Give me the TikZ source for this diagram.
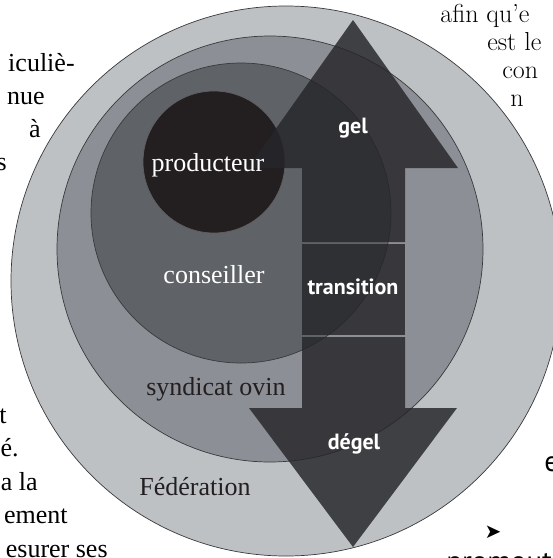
\documentclass[tikz,border=0pt]{standalone}
\usepackage{fontspec}
\usepackage{tikz}

\newfontfamily\serifface{Liberation Serif}
\newfontfamily\sansface{PT Sans}
\newfontfamily\symbface{DejaVu Sans}

\definecolor{fedgrey}{RGB}{189,193,196}
\definecolor{syngrey}{RGB}{140,143,149}
\definecolor{congrey}{RGB}{95,98,103}
\definecolor{prodblack}{RGB}{35,31,32}
\definecolor{arrowgrey}{RGB}{38,38,42}
\definecolor{rimgrey}{RGB}{58,58,60}

\begin{document}
\begin{tikzpicture}[x=1pt,y=-1pt,line width=0.7pt,
		circlelabel/.style={font=\serifface\fontsize{26}{26}\selectfont,anchor=base},
		arrowlabel/.style={font=\sansface\bfseries\fontsize{22}{22}\selectfont,text=white,anchor=base},
		lefttext/.style={font=\serifface\fontsize{26}{26}\selectfont,anchor=base east,inner sep=0pt},
		righttext/.style={font=\fontsize{26}{26}\selectfont,anchor=base west,inner sep=0pt},
		stage/.style={fill=arrowgrey,fill opacity=0.83}]
		\useasboundingbox (0,0) rectangle (553,558);
		\fill[white] (0,0) rectangle (553,558);

		% page text around the figure
		\foreach \y/\x/\word in {71/75/iculiè-, 104/45/nue, 137/41/à, 170/7/s,
			423/7/t, 456/19/é., 490/38/a la, 523/68/ement, 557/108/esurer ses}
			\node[lefttext] (l\y) at (\x,\y) {\word};
		\foreach \y/\x/\word in {22/440/afin qu’e, 50/487/est le, 78/502/con, 106/510/n}
			\node[righttext] (r\y) at (\x,\y) {\word};
		\node[font=\sansface\fontsize{29}{29}\selectfont,anchor=base west,inner sep=0pt] (e) at (544,471) {e};
		\node[font=\symbface\fontsize{20}{20}\selectfont,inner sep=0pt] (mark) at (493,532) {➤};
		\node[font=\sansface\fontsize{29}{29}\selectfont,anchor=base west,inner sep=0pt] (prom) at (446,571) {promout};

		% rings
		\foreach \cx/\cy/\r/\col in {286/281/275/fedgrey, 270/249/213/syngrey, 241/213/150/congrey}
			\filldraw[fill=\col,draw=rimgrey] (\cx,\cy) circle (\r pt);
		\filldraw[fill=prodblack,draw=rimgrey!80!white] (214,162) circle (71pt);

		% arrow in three parts
		\fill[stage] (353,20) -- (458,168) -- (405,168) -- (405,242) -- (302,242)
			-- (302,168) -- (248,168) -- cycle; % up
		\fill[stage] (302,244) rectangle (405,335);
		\fill[stage] (302,337) -- (405,337) -- (405,408) -- (457,408) -- (353,547)
			-- (249,408) -- (302,408) -- cycle; % down

		\node[circlelabel,text=white] (prod) at (208,171) {producteur};
		\node[circlelabel,text=white] (cons) at (214,283) {conseiller};
		\node[circlelabel,text=prodblack] (synd) at (216,395) {syndicat ovin};
		\node[circlelabel,text=prodblack] (fed) at (195,495) {Fédération};

		\node[arrowlabel] (gel) at (353,133) {gel};
		\node[arrowlabel] (trans) at (353,294) {transition};
		\node[arrowlabel] (degel) at (354,449) {dégel};
	\end{tikzpicture}
\end{document}
